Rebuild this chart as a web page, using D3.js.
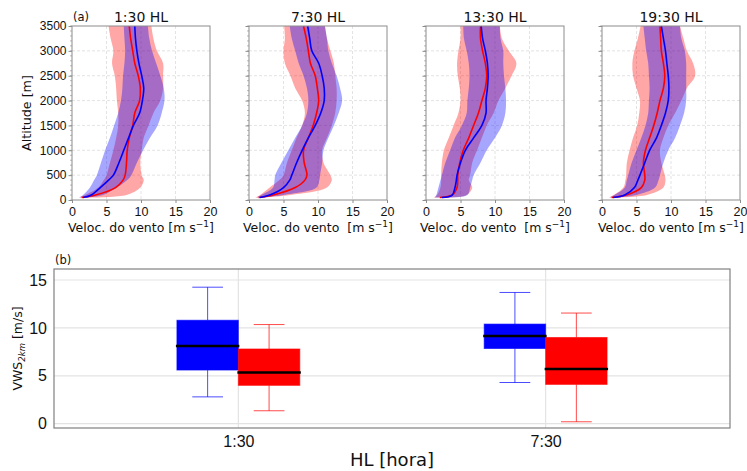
<!DOCTYPE html>
<html><head><meta charset="utf-8">
<script src="https://cdn.jsdelivr.net/npm/d3@7"></script>
<style>body{margin:0;background:#fff}svg{font-family:"DejaVu Sans",sans-serif;display:block}</style>
</head><body><svg id="c" width="747" height="471"></svg>
<script>
// ---------- DATA ----------
const altitudes = [50,100,250,400,500,750,1000,1250,1500,1750,2000,2250,2500,2750,3000,3250,3500];
const panelTitles = ["1:30 HL","7:30 HL","13:30 HL","19:30 HL"];
const xTicksTop = [0,5,10,15,20];
const yTicksTop = [0,500,1000,1500,2000,2500,3000,3500];

// blue series (per panel): mean, lower and upper envelope
const blueMean = [
  [1.6,2.8,4.1,5.3,6.0,6.8,7.5,8.2,8.9,9.8,10.2,10.4,10.1,9.7,9.4,9.2,9.1],
  [1.6,3.0,5.0,5.9,6.2,6.9,7.7,8.6,9.6,10.4,10.9,10.9,10.6,10.1,9.1,8.8,8.5],
  [2.3,3.8,4.2,4.4,4.5,5.0,5.7,6.9,8.1,8.7,8.7,8.9,9.0,8.9,8.6,8.2,8.0],
  [1.6,3.3,4.7,5.2,5.5,6.2,6.9,7.9,8.6,9.2,9.6,9.7,9.6,9.4,9.2,8.9,8.6]
];
const blueLow = [
  [1.0,1.6,2.6,3.2,3.6,4.2,4.8,5.5,6.1,6.7,7.1,7.3,7.4,7.6,7.7,7.6,7.5],
  [1.1,1.8,3.5,3.7,3.8,4.7,5.7,6.7,7.7,8.4,8.6,8.4,7.9,7.2,6.7,6.2,5.9],
  [1.3,1.5,1.8,2.1,2.3,2.8,3.5,4.2,5.2,5.9,6.0,6.2,6.3,6.2,5.9,5.5,5.4],
  [1.1,1.8,3.3,3.6,3.8,4.3,5.0,5.7,6.3,6.7,6.8,6.9,6.8,6.7,6.4,6.2,6.0]
];
const blueHigh = [
  [2.4,4.5,6.5,8.0,8.6,9.4,10.3,11.3,12.4,13.0,13.4,13.3,12.8,12.2,11.6,11.2,11.0],
  [2.2,5.0,9.8,10.2,10.3,10.6,10.8,11.5,12.3,13.0,13.5,13.2,12.7,12.0,11.5,11.3,11.0],
  [3.5,6.0,6.4,6.7,6.9,7.9,8.8,10.0,11.0,11.5,11.6,11.5,11.3,11.2,11.2,10.8,10.7],
  [2.2,5.0,7.7,8.2,8.4,8.9,9.6,10.6,11.3,11.9,12.2,12.2,12.2,12.2,12.0,11.5,11.3]
];
// red series (per panel)
const redMean = [
  [1.4,3.4,6.3,7.4,7.7,7.9,8.0,8.3,8.8,9.1,9.8,9.9,9.6,9.1,8.8,8.5,8.3],
  [1.4,3.5,6.7,8.1,8.4,8.0,7.9,8.6,9.3,9.8,10.1,9.9,9.6,8.9,8.6,8.3,7.9],
  [2.0,3.8,4.5,4.6,4.6,4.9,5.4,6.2,6.9,7.6,8.1,8.6,8.8,8.6,8.2,7.9,7.9],
  [1.4,3.5,5.7,6.2,6.2,6.0,6.3,6.9,7.5,8.0,8.4,8.9,9.1,8.9,8.6,8.5,8.4]
];
const redLow = [
  [1.1,1.9,3.8,4.6,5.0,5.5,6.0,6.4,6.7,6.7,6.5,6.4,6.2,5.8,6.0,5.6,5.3],
  [0.9,1.6,3.0,4.4,5.0,5.5,6.2,6.9,7.7,8.1,7.7,6.7,6.0,5.2,5.0,5.2,5.1],
  [1.1,1.6,2.1,2.2,2.2,2.3,2.6,3.3,4.0,4.7,5.0,4.9,4.6,4.5,4.7,5.0,5.0],
  [1.0,1.7,3.1,3.4,3.5,3.6,4.0,4.5,5.1,5.4,5.5,5.0,4.5,4.4,4.7,5.2,5.6]
];
const redHigh = [
  [2.2,7.9,9.9,10.4,10.1,9.9,10.1,10.4,11.1,11.8,12.8,13.2,13.2,13.2,12.3,11.8,11.5],
  [2.1,6.0,11.3,12.0,11.8,10.8,10.6,11.3,12.0,12.5,12.7,12.7,12.5,12.3,11.8,11.3,11.0],
  [3.0,5.9,6.7,6.2,6.4,6.7,7.4,8.1,8.8,9.8,10.5,11.5,12.4,13.1,12.0,11.0,10.7],
  [2.1,6.5,8.9,9.2,9.1,8.6,8.4,8.9,9.6,10.6,11.5,12.3,13.5,13.2,12.3,11.8,11.3]
];

// box plot (b)
const boxCategories = ["1:30","7:30"];
const yTicksBox = [0,5,10,15];
const blueWhiskerLow  = [2.8, 4.3];
const blueQ1          = [5.6, 7.85];
const blueMedian      = [8.1, 9.15];
const blueQ3          = [10.8, 10.4];
const blueWhiskerHigh = [14.25, 13.7];
const redWhiskerLow   = [1.35, 0.2];
const redQ1           = [4.0, 4.1];
const redMedian       = [5.35, 5.7];
const redQ3           = [7.8, 9.0];
const redWhiskerHigh  = [10.35, 11.55];

// ---------- DRAW ----------
const svg = d3.select("#c");
const BLUE = "#0000ff", RED = "#ff0000";
const spine = "#8c8c8c";
const bandAlpha = 0.35;

const panelLeft = [72, 249, 426, 602];
const panelW = 138, topY = 26, botY = 200;

panelLeft.forEach((x0, i) => {
  const x = d3.scaleLinear([0,20],[x0, x0+panelW]);
  const y = d3.scaleLinear([0,3500],[botY, topY]);
  const g = svg.append("g");

  // grid
  g.selectAll(".gx").data([5,10,15]).join("line")
    .attr("x1", d=>x(d)).attr("x2", d=>x(d)).attr("y1", topY).attr("y2", botY)
    .attr("stroke","#dcdcdc").attr("stroke-width",0.8).attr("stroke-dasharray","3,2");
  g.selectAll(".gy").data(yTicksTop.slice(1,-1)).join("line")
    .attr("x1", x0).attr("x2", x0+panelW).attr("y1", d=>y(d)).attr("y2", d=>y(d))
    .attr("stroke","#dcdcdc").attr("stroke-width",0.8).attr("stroke-dasharray","3,2");

  const rows = altitudes.map((a,k)=>({a, bm:blueMean[i][k], bl:blueLow[i][k], bh:blueHigh[i][k],
    rm:redMean[i][k], rl:redLow[i][k], rh:redHigh[i][k]}));
  const curve = d3.curveCatmullRom;
  const areaR = d3.area().y(d=>y(d.a)).x0(d=>x(d.rl)).x1(d=>x(d.rh)).curve(curve);
  const areaB = d3.area().y(d=>y(d.a)).x0(d=>x(d.bl)).x1(d=>x(d.bh)).curve(curve);
  const lineR = d3.line().y(d=>y(d.a)).x(d=>x(d.rm)).curve(curve);
  const lineB = d3.line().y(d=>y(d.a)).x(d=>x(d.bm)).curve(curve);

  g.append("path").datum(rows).attr("d", areaR).attr("fill", RED).attr("fill-opacity",bandAlpha);
  g.append("path").datum(rows).attr("d", areaB).attr("fill", BLUE).attr("fill-opacity",bandAlpha);
  g.append("path").datum(rows).attr("d", lineR).attr("fill","none").attr("stroke",RED).attr("stroke-width",1.6);
  g.append("path").datum(rows).attr("d", lineB).attr("fill","none").attr("stroke",BLUE).attr("stroke-width",1.6);

  // frame
  g.append("rect").attr("x",x0).attr("y",topY).attr("width",panelW).attr("height",botY-topY)
    .attr("fill","none").attr("stroke",spine).attr("stroke-width",1);

  // minor y ticks
  g.selectAll(".mt").data(d3.range(0,3501,100)).join("line")
    .attr("x1", x0-2).attr("x2", x0).attr("y1", d=>y(d)).attr("y2", d=>y(d))
    .attr("stroke", spine).attr("stroke-width",0.6);

  // x axis
  const ax = g.append("g").attr("transform",`translate(0,${botY})`)
    .call(d3.axisBottom(x).tickValues(xTicksTop).tickFormat(d3.format("d")).tickSize(3).tickSizeOuter(0).tickPadding(4));
  ax.select(".domain").remove();
  ax.selectAll("line").attr("stroke",spine);
  ax.selectAll("text").attr("font-size","12.5px").attr("fill","#111");

  // y axis
  const ay = g.append("g").attr("transform",`translate(${x0},0)`)
    .call(d3.axisLeft(y).tickValues(yTicksTop).tickFormat(i===0? d3.format("d") : ()=>"").tickSize(3.5).tickSizeOuter(0).tickPadding(2));
  ay.select(".domain").remove();
  ay.selectAll("line").attr("stroke",spine);
  ay.selectAll("text").attr("font-size","12px").attr("fill","#111");

  // title
  g.append("text").attr("x", x0+panelW/2).attr("y",22).attr("text-anchor","middle")
    .attr("font-size","14px").attr("fill","#111").text(panelTitles[i]);

  // x label
  const sp = (i===1||i===2) ? "\u00a0\u00a0" : " ";
  const xl = g.append("text").attr("x", x0+panelW/2).attr("y",232).attr("text-anchor","middle")
    .attr("font-size","12.5px").attr("fill","#111");
  xl.append("tspan").text("Veloc. do vento"+sp+"[m s");
  xl.append("tspan").attr("dy","-5").attr("font-size","9px").text("\u22121");
  xl.append("tspan").attr("dy","5").text("]");
});

svg.append("text").attr("x",73).attr("y",21).attr("font-size","11.5px").attr("fill","#111").text("(a)");
svg.append("text").attr("transform","translate(31,113) rotate(-90)").attr("text-anchor","middle")
  .attr("font-size","12.7px").attr("fill","#111").text("Altitude [m]");

// ---------- BOX PLOT ----------
const bx0 = 54, bx1 = 730, by0 = 269, by1 = 428;
const xb = d3.scaleLinear([-0.6,1.6],[bx0,bx1]);
const yb = d3.scaleLinear([-0.45,16.15],[by1,by0]);
const gb = svg.append("g");

gb.selectAll(".hg").data(yTicksBox).join("line")
  .attr("x1",bx0).attr("x2",bx1).attr("y1",d=>yb(d)).attr("y2",d=>yb(d))
  .attr("stroke","#e3e3e3").attr("stroke-width",1.2);
gb.selectAll(".vg").data(boxCategories.map((c,i)=>i)).join("line")
  .attr("x1",d=>xb(d)).attr("x2",d=>xb(d)).attr("y1",by0).attr("y2",by1)
  .attr("stroke","#e3e3e3").attr("stroke-width",1.2);

const series = [
  {color:BLUE, off:-0.1, lo:blueWhiskerLow, q1:blueQ1, med:blueMedian, q3:blueQ3, hi:blueWhiskerHigh},
  {color:RED,  off: 0.1, lo:redWhiskerLow,  q1:redQ1,  med:redMedian,  q3:redQ3,  hi:redWhiskerHigh}
];
const halfW = 0.1, capHalf = 0.05;
series.forEach(s => {
  boxCategories.forEach((c, i) => {
    const cx = i + s.off;
    // whiskers
    gb.append("line").attr("x1",xb(cx)).attr("x2",xb(cx)).attr("y1",yb(s.lo[i])).attr("y2",yb(s.q1[i]))
      .attr("stroke",s.color).attr("stroke-opacity",0.7).attr("stroke-width",1);
    gb.append("line").attr("x1",xb(cx)).attr("x2",xb(cx)).attr("y1",yb(s.q3[i])).attr("y2",yb(s.hi[i]))
      .attr("stroke",s.color).attr("stroke-opacity",0.7).attr("stroke-width",1);
    [s.lo[i], s.hi[i]].forEach(v => {
      gb.append("line").attr("x1",xb(cx-capHalf)).attr("x2",xb(cx+capHalf)).attr("y1",yb(v)).attr("y2",yb(v))
        .attr("stroke",s.color).attr("stroke-opacity",0.7).attr("stroke-width",1);
    });
    // box
    gb.append("rect").attr("x",xb(cx-halfW)).attr("width",xb(cx+halfW)-xb(cx-halfW))
      .attr("y",yb(s.q3[i])).attr("height",yb(s.q1[i])-yb(s.q3[i]))
      .attr("fill",s.color).attr("stroke",s.color).attr("stroke-opacity",0.6).attr("stroke-width",1);
  });
});
series.forEach(s => {
  boxCategories.forEach((c, i) => {
    const cx = i + s.off;
    gb.append("line").attr("x1",xb(cx-halfW)-1).attr("x2",xb(cx+halfW)+1)
      .attr("y1",yb(s.med[i])).attr("y2",yb(s.med[i]))
      .attr("stroke","#000").attr("stroke-width",2.5);
  });
});

gb.append("rect").attr("x",bx0).attr("y",by0).attr("width",bx1-bx0).attr("height",by1-by0)
  .attr("fill","none").attr("stroke","#808080").attr("stroke-width",1.2);

const ayb = gb.append("g").attr("transform",`translate(${bx0},0)`)
  .call(d3.axisLeft(yb).tickValues(yTicksBox).tickSize(0).tickPadding(7));
ayb.select(".domain").remove();
ayb.selectAll("text").attr("font-size","16px").attr("fill","#111");

const axb = gb.append("g").attr("transform",`translate(0,${by1})`)
  .call(d3.axisBottom(xb).tickValues(boxCategories.map((c,i)=>i)).tickFormat(i=>boxCategories[i]).tickSize(0).tickPadding(8));
axb.select(".domain").remove();
axb.selectAll("text").attr("font-size","16px").attr("fill","#111");

svg.append("text").attr("x",(bx0+bx1)/2).attr("y",466).attr("text-anchor","middle")
  .attr("font-size","18px").attr("fill","#111").text("HL [hora]");
svg.append("text").attr("x",55).attr("y",264).attr("font-size","11.5px").attr("fill","#111").text("(b)");
const vl = svg.append("text").attr("transform",`translate(22,${(by0+by1)/2}) rotate(-90)`).attr("text-anchor","middle")
  .attr("font-size","12.5px").attr("fill","#111");
vl.append("tspan").text("VWS");
vl.append("tspan").attr("dy","3").attr("font-size","8.5px").attr("font-style","italic").text("2km");
vl.append("tspan").attr("dy","-3").text(" [m/s]");
</script>
</body></html>
